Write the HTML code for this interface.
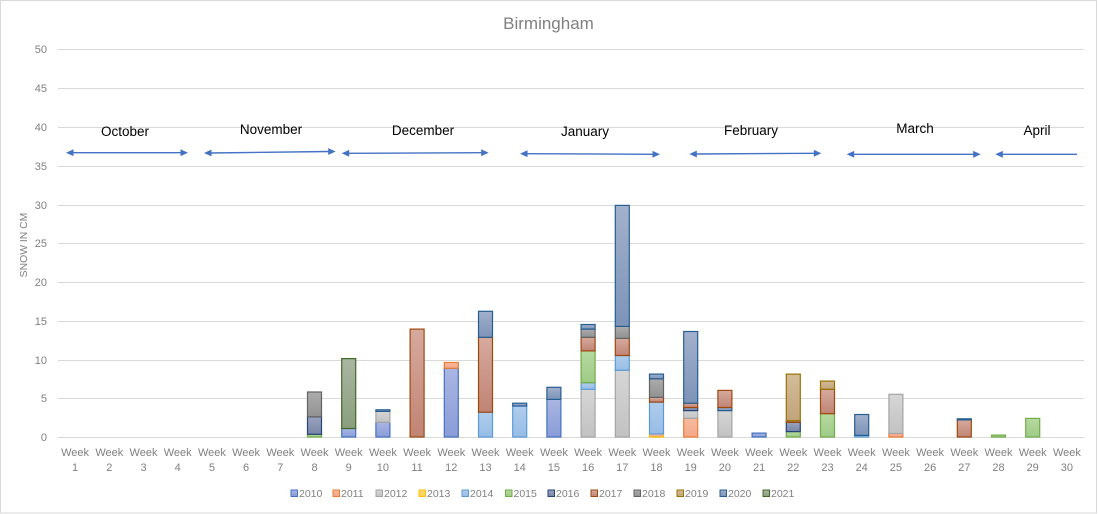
<!DOCTYPE html>
<html><head><meta charset="utf-8"><style>
html,body{margin:0;padding:0;background:#fff}
svg{display:block}
text{font-family:"Liberation Sans",sans-serif}
</style></head><body>
<svg width="1098" height="514" viewBox="0 0 1098 514" xmlns="http://www.w3.org/2000/svg">
<defs>
<linearGradient id="g2010" x1="0" y1="0" x2="0" y2="1"><stop offset="0" stop-color="#aab6e2"/><stop offset="1" stop-color="#8a9cd8"/></linearGradient>
<linearGradient id="g2011" x1="0" y1="0" x2="0" y2="1"><stop offset="0" stop-color="#f7bba0"/><stop offset="1" stop-color="#f3a688"/></linearGradient>
<linearGradient id="g2012" x1="0" y1="0" x2="0" y2="1"><stop offset="0" stop-color="#d6d6d6"/><stop offset="1" stop-color="#c2c2c2"/></linearGradient>
<linearGradient id="g2013" x1="0" y1="0" x2="0" y2="1"><stop offset="0" stop-color="#ffdc7a"/><stop offset="1" stop-color="#ffcf55"/></linearGradient>
<linearGradient id="g2014" x1="0" y1="0" x2="0" y2="1"><stop offset="0" stop-color="#b0cdec"/><stop offset="1" stop-color="#97bde6"/></linearGradient>
<linearGradient id="g2015" x1="0" y1="0" x2="0" y2="1"><stop offset="0" stop-color="#b6d9a0"/><stop offset="1" stop-color="#9fcb86"/></linearGradient>
<linearGradient id="g2016" x1="0" y1="0" x2="0" y2="1"><stop offset="0" stop-color="#9aa3bd"/><stop offset="1" stop-color="#7a86a8"/></linearGradient>
<linearGradient id="g2017" x1="0" y1="0" x2="0" y2="1"><stop offset="0" stop-color="#d6aa9e"/><stop offset="1" stop-color="#c08474"/></linearGradient>
<linearGradient id="g2018" x1="0" y1="0" x2="0" y2="1"><stop offset="0" stop-color="#acacac"/><stop offset="1" stop-color="#929292"/></linearGradient>
<linearGradient id="g2019" x1="0" y1="0" x2="0" y2="1"><stop offset="0" stop-color="#d4bc9a"/><stop offset="1" stop-color="#c0a47c"/></linearGradient>
<linearGradient id="g2020" x1="0" y1="0" x2="0" y2="1"><stop offset="0" stop-color="#a2b1cc"/><stop offset="1" stop-color="#7d93b8"/></linearGradient>
<linearGradient id="g2021" x1="0" y1="0" x2="0" y2="1"><stop offset="0" stop-color="#aab6a2"/><stop offset="1" stop-color="#8a9e7e"/></linearGradient>
</defs>
<rect x="0.5" y="0.5" width="1096" height="512.5" fill="#fff" stroke="#d9d9d9" stroke-width="1"/>
<text x="548.5" y="29" font-size="17" fill="#808080" text-anchor="middle">Birmingham</text>
<g stroke="#d9d9d9" stroke-width="1">
<line x1="58" y1="49.5" x2="1084" y2="49.5"/>
<line x1="58" y1="88.5" x2="1084" y2="88.5"/>
<line x1="58" y1="127.5" x2="1084" y2="127.5"/>
<line x1="58" y1="166.5" x2="1084" y2="166.5"/>
<line x1="58" y1="205.5" x2="1084" y2="205.5"/>
<line x1="58" y1="243.5" x2="1084" y2="243.5"/>
<line x1="58" y1="282.5" x2="1084" y2="282.5"/>
<line x1="58" y1="321.5" x2="1084" y2="321.5"/>
<line x1="58" y1="360.5" x2="1084" y2="360.5"/>
<line x1="58" y1="398.5" x2="1084" y2="398.5"/>
<line x1="58" y1="437.5" x2="1084" y2="437.5"/>
</g>
<g font-size="11" fill="#808080" text-anchor="end">
<text x="47" y="53">50</text><text x="47" y="92">45</text><text x="47" y="131">40</text><text x="47" y="170">35</text><text x="47" y="209">30</text><text x="47" y="247">25</text><text x="47" y="286">20</text><text x="47" y="325">15</text><text x="47" y="364">10</text><text x="47" y="402">5</text><text x="47" y="441">0</text>
</g>
<text transform="translate(27,245) rotate(-90)" font-size="10.4" fill="#808080" text-anchor="middle">SNOW IN CM</text>

<g stroke-width="1.2">
<!-- W8 -->
<rect x="307.5" y="434.3" width="14" height="2.7" fill="url(#g2015)" stroke="#70AD47"/>
<rect x="307.5" y="416.8" width="14" height="17.5" fill="url(#g2016)" stroke="#264478"/>
<rect x="307.5" y="392.0" width="14" height="24.8" fill="url(#g2018)" stroke="#636363"/>
<!-- W9 -->
<rect x="341.7" y="428.5" width="14" height="8.5" fill="url(#g2010)" stroke="#4472C4"/>
<rect x="341.7" y="358.6" width="14" height="69.9" fill="url(#g2021)" stroke="#43682B"/>
<!-- W10 -->
<rect x="375.9" y="422.3" width="14" height="14.7" fill="url(#g2010)" stroke="#4472C4"/>
<rect x="375.9" y="411.4" width="14" height="10.9" fill="url(#g2012)" stroke="#A5A5A5"/>
<rect x="375.9" y="409.8" width="14" height="1.6" fill="url(#g2020)" stroke="#255E91"/>
<!-- W11 -->
<rect x="410.1" y="329.1" width="14" height="107.9" fill="url(#g2017)" stroke="#9E480E"/>
<!-- W12 -->
<rect x="444.3" y="368.3" width="14" height="68.7" fill="url(#g2010)" stroke="#4472C4"/>
<rect x="444.3" y="362.5" width="14" height="5.8" fill="url(#g2011)" stroke="#ED7D31"/>
<!-- W13 -->
<rect x="478.5" y="412.2" width="14" height="24.8" fill="url(#g2014)" stroke="#5B9BD5"/>
<rect x="478.5" y="337.3" width="14" height="74.9" fill="url(#g2017)" stroke="#9E480E"/>
<rect x="478.5" y="311.3" width="14" height="26.0" fill="url(#g2020)" stroke="#255E91"/>
<!-- W14 -->
<rect x="512.7" y="406.0" width="14" height="31.0" fill="url(#g2014)" stroke="#5B9BD5"/>
<rect x="512.7" y="403.2" width="14" height="2.8" fill="url(#g2020)" stroke="#255E91"/>
<!-- W15 -->
<rect x="546.9" y="399.4" width="14" height="37.6" fill="url(#g2010)" stroke="#4472C4"/>
<rect x="546.9" y="387.3" width="14" height="12.1" fill="url(#g2020)" stroke="#255E91"/>
<!-- W16 -->
<rect x="581.1" y="389.3" width="14" height="47.7" fill="url(#g2012)" stroke="#A5A5A5"/>
<rect x="581.1" y="382.7" width="14" height="6.6" fill="url(#g2014)" stroke="#5B9BD5"/>
<rect x="581.1" y="350.9" width="14" height="31.8" fill="url(#g2015)" stroke="#70AD47"/>
<rect x="581.1" y="337.3" width="14" height="13.6" fill="url(#g2017)" stroke="#9E480E"/>
<rect x="581.1" y="329.1" width="14" height="8.2" fill="url(#g2018)" stroke="#636363"/>
<rect x="581.1" y="324.5" width="14" height="4.6" fill="url(#g2020)" stroke="#255E91"/>
<!-- W17 -->
<rect x="615.3" y="370.3" width="14" height="66.7" fill="url(#g2012)" stroke="#A5A5A5"/>
<rect x="615.3" y="355.5" width="14" height="14.8" fill="url(#g2014)" stroke="#5B9BD5"/>
<rect x="615.3" y="338.4" width="14" height="17.1" fill="url(#g2017)" stroke="#9E480E"/>
<rect x="615.3" y="326.4" width="14" height="12.0" fill="url(#g2018)" stroke="#636363"/>
<rect x="615.3" y="205.4" width="14" height="121.0" fill="url(#g2020)" stroke="#255E91"/>
<!-- W18 -->
<rect x="649.5" y="433.9" width="14" height="3.1" fill="url(#g2011)" stroke="#FFC000"/>
<rect x="649.5" y="402.1" width="14" height="31.8" fill="url(#g2014)" stroke="#5B9BD5"/>
<rect x="649.5" y="397.4" width="14" height="4.7" fill="url(#g2017)" stroke="#9E480E"/>
<rect x="649.5" y="378.8" width="14" height="18.6" fill="url(#g2018)" stroke="#636363"/>
<rect x="649.5" y="374.1" width="14" height="4.7" fill="url(#g2020)" stroke="#255E91"/>
<!-- W19 -->
<rect x="683.7" y="418.4" width="14" height="18.6" fill="url(#g2011)" stroke="#ED7D31"/>
<rect x="683.7" y="410.6" width="14" height="7.8" fill="url(#g2012)" stroke="#A5A5A5"/>
<rect x="683.7" y="407.5" width="14" height="3.1" fill="url(#g2016)" stroke="#264478"/>
<rect x="683.7" y="403.2" width="14" height="4.3" fill="url(#g2017)" stroke="#9E480E"/>
<rect x="683.7" y="331.5" width="14" height="71.7" fill="url(#g2020)" stroke="#255E91"/>
<!-- W20 -->
<rect x="717.9" y="410.6" width="14" height="26.4" fill="url(#g2012)" stroke="#A5A5A5"/>
<rect x="717.9" y="407.5" width="14" height="3.1" fill="url(#g2020)" stroke="#255E91"/>
<rect x="717.9" y="390.4" width="14" height="17.1" fill="url(#g2017)" stroke="#9E480E"/>
<!-- W21 -->
<rect x="752.1" y="433.1" width="14" height="3.9" fill="url(#g2010)" stroke="#4472C4"/>
<!-- W22 -->
<rect x="786.3" y="431.6" width="14" height="5.4" fill="url(#g2015)" stroke="#70AD47"/>
<rect x="786.3" y="422.3" width="14" height="9.3" fill="url(#g2016)" stroke="#264478"/>
<rect x="786.3" y="420.7" width="14" height="1.6" fill="url(#g2017)" stroke="#9E480E"/>
<rect x="786.3" y="374.1" width="14" height="46.6" fill="url(#g2019)" stroke="#997300"/>
<!-- W23 -->
<rect x="820.5" y="413.7" width="14" height="23.3" fill="url(#g2015)" stroke="#70AD47"/>
<rect x="820.5" y="389.3" width="14" height="24.4" fill="url(#g2017)" stroke="#9E480E"/>
<rect x="820.5" y="381.1" width="14" height="8.2" fill="url(#g2019)" stroke="#997300"/>
<!-- W24 -->
<rect x="854.7" y="435.4" width="14" height="1.6" fill="url(#g2014)" stroke="#5B9BD5"/>
<rect x="854.7" y="414.5" width="14" height="20.9" fill="url(#g2020)" stroke="#255E91"/>
<!-- W25 -->
<rect x="888.9" y="433.5" width="14" height="3.5" fill="url(#g2011)" stroke="#ED7D31"/>
<rect x="888.9" y="394.3" width="14" height="39.2" fill="url(#g2012)" stroke="#A5A5A5"/>
<!-- W27 -->
<rect x="957.3" y="419.9" width="14" height="17.1" fill="url(#g2017)" stroke="#9E480E"/>
<rect x="957.3" y="418.8" width="14" height="1.1" fill="url(#g2020)" stroke="#255E91"/>
<!-- W28 -->
<rect x="991.5" y="435.1" width="14" height="1.9" fill="url(#g2015)" stroke="#70AD47"/>
<!-- W29 -->
<rect x="1025.7" y="418.4" width="14" height="18.6" fill="url(#g2015)" stroke="#70AD47"/>
</g>

<g font-size="11" fill="#808080" text-anchor="middle">
<text x="75.1" y="456">Week</text><text x="75.1" y="471">1</text>
<text x="109.3" y="456">Week</text><text x="109.3" y="471">2</text>
<text x="143.5" y="456">Week</text><text x="143.5" y="471">3</text>
<text x="177.7" y="456">Week</text><text x="177.7" y="471">4</text>
<text x="211.9" y="456">Week</text><text x="211.9" y="471">5</text>
<text x="246.1" y="456">Week</text><text x="246.1" y="471">6</text>
<text x="280.3" y="456">Week</text><text x="280.3" y="471">7</text>
<text x="314.5" y="456">Week</text><text x="314.5" y="471">8</text>
<text x="348.7" y="456">Week</text><text x="348.7" y="471">9</text>
<text x="382.9" y="456">Week</text><text x="382.9" y="471">10</text>
<text x="417.1" y="456">Week</text><text x="417.1" y="471">11</text>
<text x="451.3" y="456">Week</text><text x="451.3" y="471">12</text>
<text x="485.5" y="456">Week</text><text x="485.5" y="471">13</text>
<text x="519.7" y="456">Week</text><text x="519.7" y="471">14</text>
<text x="553.9" y="456">Week</text><text x="553.9" y="471">15</text>
<text x="588.1" y="456">Week</text><text x="588.1" y="471">16</text>
<text x="622.3" y="456">Week</text><text x="622.3" y="471">17</text>
<text x="656.5" y="456">Week</text><text x="656.5" y="471">18</text>
<text x="690.7" y="456">Week</text><text x="690.7" y="471">19</text>
<text x="724.9" y="456">Week</text><text x="724.9" y="471">20</text>
<text x="759.1" y="456">Week</text><text x="759.1" y="471">21</text>
<text x="793.3" y="456">Week</text><text x="793.3" y="471">22</text>
<text x="827.5" y="456">Week</text><text x="827.5" y="471">23</text>
<text x="861.7" y="456">Week</text><text x="861.7" y="471">24</text>
<text x="895.9" y="456">Week</text><text x="895.9" y="471">25</text>
<text x="930.1" y="456">Week</text><text x="930.1" y="471">26</text>
<text x="964.3" y="456">Week</text><text x="964.3" y="471">27</text>
<text x="998.5" y="456">Week</text><text x="998.5" y="471">28</text>
<text x="1032.7" y="456">Week</text><text x="1032.7" y="471">29</text>
<text x="1066.9" y="456">Week</text><text x="1066.9" y="471">30</text>
</g>

<!-- month labels -->
<g font-size="13.5" fill="#000" text-anchor="middle">
<text x="125" y="136">October</text>
<text x="271" y="134">November</text>
<text x="423" y="135">December</text>
<text x="585" y="136">January</text>
<text x="751" y="135">February</text>
<text x="915" y="133">March</text>
<text x="1037" y="135">April</text>
</g>
<!-- arrows -->
<g stroke="#4472C4" stroke-width="1.4" fill="none">
<line x1="72" y1="152.7" x2="182" y2="152.7"/>
<line x1="210" y1="153" x2="330" y2="151.5"/>
<line x1="348" y1="153.3" x2="482" y2="152.7"/>
<line x1="526" y1="153.7" x2="654" y2="154.3"/>
<line x1="695" y1="154" x2="815" y2="153.3"/>
<line x1="853" y1="154.3" x2="975" y2="154.3"/>
<line x1="1001" y1="154.3" x2="1077" y2="154.3"/>
</g>
<g fill="#4472C4">
<polygon points="66,152.7 73.5,149.3 73.5,156.1"/>
<polygon points="188,152.7 180.5,149.3 180.5,156.1"/>
<polygon points="204,153 211.5,149.6 211.5,156.4"/>
<polygon points="335.7,151.5 328.2,148.1 328.2,154.9"/>
<polygon points="341.7,153.3 349.2,149.9 349.2,156.7"/>
<polygon points="488.7,152.7 481.2,149.3 481.2,156.1"/>
<polygon points="520,153.7 527.5,150.3 527.5,157.1"/>
<polygon points="660,154.3 652.5,150.9 652.5,157.7"/>
<polygon points="689.3,154 696.8,150.6 696.8,157.4"/>
<polygon points="821.3,153.3 813.8,149.9 813.8,156.7"/>
<polygon points="846.7,154.3 854.2,150.9 854.2,157.7"/>
<polygon points="980.7,154.3 973.2,150.9 973.2,157.7"/>
<polygon points="995.3,154.3 1002.8,150.9 1002.8,157.7"/>
</g>

<!-- legend -->
<g stroke-width="1">
<rect x="291" y="490" width="6.5" height="6.5" fill="url(#g2010)" stroke="#4472C4"/>
<rect x="333" y="490" width="6.5" height="6.5" fill="url(#g2011)" stroke="#ED7D31"/>
<rect x="376" y="490" width="6.5" height="6.5" fill="url(#g2012)" stroke="#A5A5A5"/>
<rect x="419" y="490" width="6.5" height="6.5" fill="url(#g2013)" stroke="#FFC000"/>
<rect x="462" y="490" width="6.5" height="6.5" fill="url(#g2014)" stroke="#5B9BD5"/>
<rect x="505.5" y="490" width="6.5" height="6.5" fill="url(#g2015)" stroke="#70AD47"/>
<rect x="548" y="490" width="6.5" height="6.5" fill="url(#g2016)" stroke="#264478"/>
<rect x="591" y="490" width="6.5" height="6.5" fill="url(#g2017)" stroke="#9E480E"/>
<rect x="634" y="490" width="6.5" height="6.5" fill="url(#g2018)" stroke="#636363"/>
<rect x="677" y="490" width="6.5" height="6.5" fill="url(#g2019)" stroke="#997300"/>
<rect x="720" y="490" width="6.5" height="6.5" fill="url(#g2020)" stroke="#255E91"/>
<rect x="763" y="490" width="6.5" height="6.5" fill="url(#g2021)" stroke="#43682B"/>
</g>
<g font-size="10.5" fill="#808080">
<text x="299" y="497">2010</text>
<text x="341" y="497">2011</text>
<text x="384" y="497">2012</text>
<text x="427" y="497">2013</text>
<text x="470" y="497">2014</text>
<text x="513.5" y="497">2015</text>
<text x="556" y="497">2016</text>
<text x="599" y="497">2017</text>
<text x="642" y="497">2018</text>
<text x="685" y="497">2019</text>
<text x="728" y="497">2020</text>
<text x="771" y="497">2021</text>
</g>
</svg>
</body></html>
